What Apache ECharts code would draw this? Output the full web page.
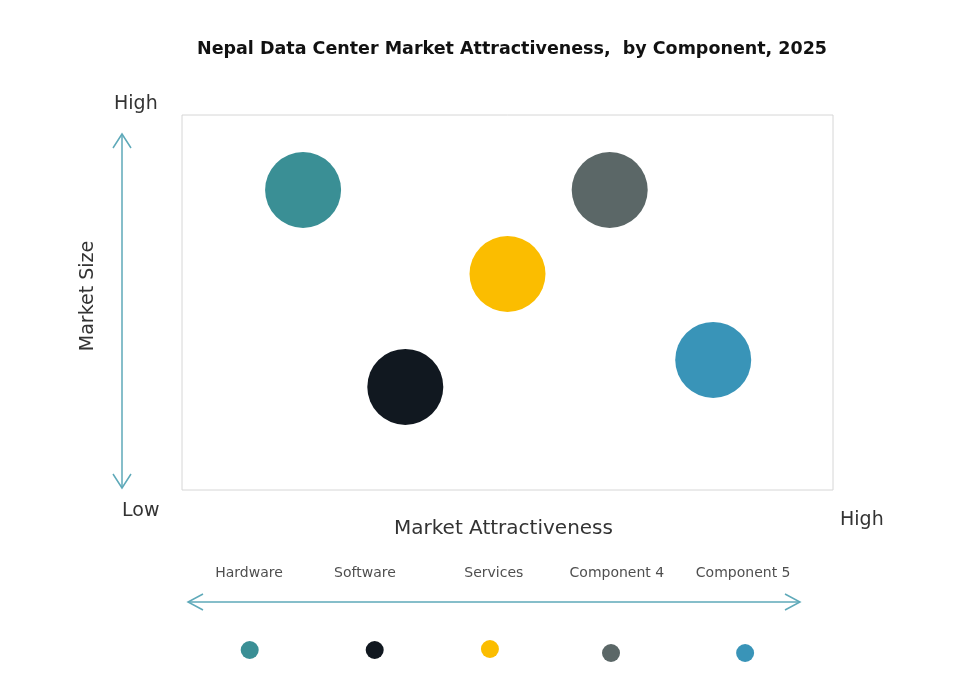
<!DOCTYPE html>
<html lang="en" style="height: 100%">
<head>
  <meta charset="utf-8">
</head>
<body style="height: 100%; margin: 0; background: #fff">
  <div id="container" style="height: 100%"></div>
  <script type="text/javascript" src="https://fastly.jsdelivr.net/npm/echarts@6.0.0/dist/echarts.min.js"></script>
  <script type="text/javascript">
    // data
    var components = ['Hardware', 'Software', 'Services', 'Component 4', 'Component 5'];
    var colors = ['#3a8f95', '#111820', '#fbbd00', '#5b6767', '#3994b8'];
    var attractiveness = [18.6, 34.3, 50.0, 65.7, 81.6];
    var marketSize = [80, 27.5, 57.6, 80, 34.7];
    // legend strip positions
    var legendDotX = [10.4, 29.6, 47.3, 65.9, 86.5];
    var legendDotY = [10, 10, 11, 7, 7];
    var legendLabelX = [10.3, 28.1, 47.9, 66.8, 86.2];

    var dom = document.getElementById('container');
    var myChart = echarts.init(dom, null, { renderer: 'canvas' });
    var font = '"DejaVu Sans", sans-serif';

    var bubbles = components.map(function (name, i) {
      return { name: name, value: [attractiveness[i], marketSize[i]], itemStyle: { color: colors[i] } };
    });
    var dots = components.map(function (name, i) {
      return { name: name, value: [legendDotX[i], legendDotY[i]], itemStyle: { color: colors[i] } };
    });
    var labels = components.map(function (name, i) {
      return { name: name, value: [legendLabelX[i], 87] };
    });

    var arrowColor = '#5ea9b9';

    var option = {
      animation: false,
      title: {
        text: 'Nepal Data Center Market Attractiveness,  by Component, 2025',
        left: 192,
        top: 35,
        textStyle: { fontFamily: font, fontSize: 17.5, fontWeight: 'bold', color: '#111' }
      },
      grid: [
        { left: 182, top: 115, width: 651, height: 375, show: true, borderColor: '#d6d6d6', borderWidth: 1 },
        { left: 182, top: 560, width: 651, height: 100 }
      ],
      xAxis: [
        { type: 'value', min: 0, max: 100, show: false, gridIndex: 0 },
        { type: 'value', min: 0, max: 100, show: false, gridIndex: 1 }
      ],
      yAxis: [
        { type: 'value', min: 0, max: 100, show: false, gridIndex: 0 },
        { type: 'value', min: 0, max: 100, show: false, gridIndex: 1 }
      ],
      series: [
        {
          type: 'scatter', xAxisIndex: 0, yAxisIndex: 0,
          symbolSize: 76, itemStyle: { opacity: 1 }, data: bubbles
        },
        {
          type: 'scatter', xAxisIndex: 1, yAxisIndex: 1,
          symbolSize: 18, itemStyle: { opacity: 1 }, data: dots
        },
        {
          type: 'scatter', xAxisIndex: 1, yAxisIndex: 1,
          symbolSize: 0, data: labels,
          label: {
            show: true, position: 'inside', formatter: '{b}',
            fontFamily: font, fontSize: 14, color: '#222'
          }
        }
      ],
      graphic: [
        // vertical arrow
        { type: 'line', shape: { x1: 122, y1: 134, x2: 122, y2: 488 }, style: { stroke: arrowColor, lineWidth: 1.5 } },
        { type: 'polyline', shape: { points: [[113, 148], [122, 134], [131, 148]] }, style: { stroke: arrowColor, lineWidth: 1.5, fill: null } },
        { type: 'polyline', shape: { points: [[113, 474], [122, 488], [131, 474]] }, style: { stroke: arrowColor, lineWidth: 1.5, fill: null } },
        // horizontal arrow
        { type: 'line', shape: { x1: 188, y1: 602, x2: 800, y2: 602 }, style: { stroke: arrowColor, lineWidth: 1.5 } },
        { type: 'polyline', shape: { points: [[203, 594], [188, 602], [203, 610]] }, style: { stroke: arrowColor, lineWidth: 1.5, fill: null } },
        { type: 'polyline', shape: { points: [[785, 594], [800, 602], [785, 610]] }, style: { stroke: arrowColor, lineWidth: 1.5, fill: null } },
        // texts
        { type: 'text', left: 114, top: 95, style: { text: 'High', font: '19px ' + font, fill: '#333' } },
        { type: 'text', left: 122, top: 502, style: { text: 'Low', font: '19px ' + font, fill: '#333' } },
        { type: 'text', left: 840, top: 511, style: { text: 'High', font: '19px ' + font, fill: '#333' } },
        { type: 'text', left: 394, top: 519, style: { text: 'Market Attractiveness', font: '20px ' + font, fill: '#333' } },
        {
          type: 'text', x: 88, y: 296, rotation: Math.PI / 2,
          style: { text: 'Market Size', font: '19px ' + font, fill: '#333', align: 'center', verticalAlign: 'middle' }
        }
      ]
    };

    myChart.setOption(option);
    window.addEventListener('resize', myChart.resize);
  </script>
</body>
</html>
